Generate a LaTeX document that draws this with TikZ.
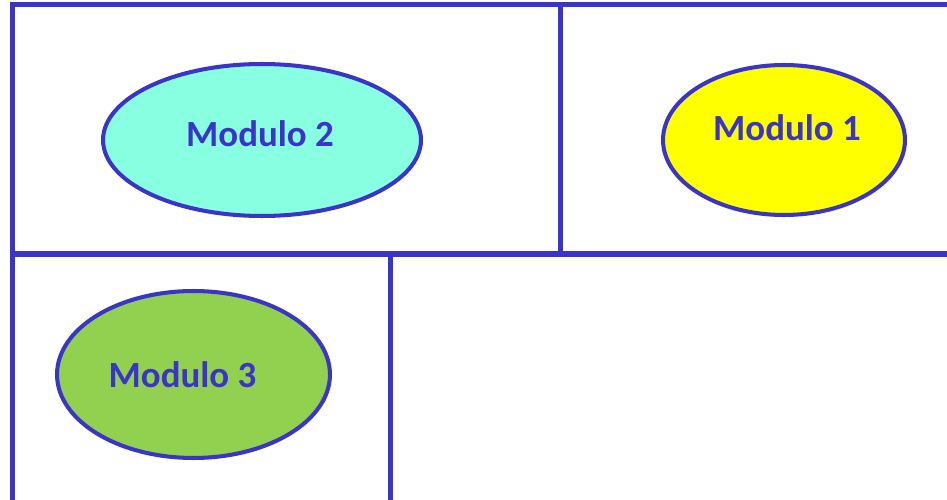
\documentclass[tikz,border=0pt]{standalone}
\usepackage{fontspec}
\setmainfont{Carlito}
\usepackage{tikz}
\usetikzlibrary{shapes.geometric}

\definecolor{frameblue}{HTML}{3A35C8}
\definecolor{aqua}{HTML}{88FFE0}
\definecolor{lemon}{HTML}{FFFF00}
\definecolor{leaf}{HTML}{92D050}

\begin{document}
\begin{tikzpicture}[x=0.02cm, y=-0.02cm,
  wall/.style={draw=frameblue, line width=2.85pt},
  modulo/.style={ellipse, draw=frameblue, line width=2.3pt, inner sep=0pt},
  modname/.style={anchor=base, text=frameblue, font=\fontsize{21}{24}\selectfont\bfseries}]
\useasboundingbox (0,0) rectangle (947,500);

% the walls
\coordinate (tl) at (12.5,4.5);
\coordinate (tr) at (947,4.5);
\coordinate (bl) at (12.5,500);
\coordinate (ml) at (12.5,254);
\coordinate (mr) at (947,254);
\coordinate (ut) at (560.7,4.5);
\coordinate (ub) at (560.7,254);
\coordinate (lt) at (390.7,254);
\coordinate (lb) at (390.7,500);
\draw[wall] (tr) -- (tl) -- (bl);
\draw[wall] (ml) -- (mr);
\draw[wall] (ut) -- (ub);
\draw[wall] (lt) -- (lb);

% the three modules
\node[modulo, fill=aqua, minimum width=6.36cm, minimum height=3.04cm] (m2) at (262,140) {};
\node[modulo, fill=lemon, minimum width=4.84cm, minimum height=3.0cm] (m1) at (784,140) {};
\node[modulo, fill=leaf, minimum width=5.46cm, minimum height=3.34cm] (m3) at (193.5,374.5) {};

\node[modname] (t2) at (260,147) {Modulo 2};
\node[modname] (t1) at (787,141) {Modulo 1};
\node[modname] (t3) at (182.5,387) {Modulo 3};
\end{tikzpicture}
\end{document}
